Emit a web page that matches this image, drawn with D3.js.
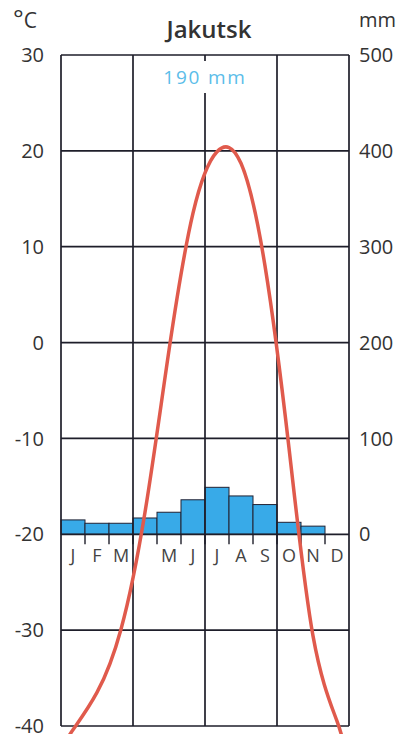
<!DOCTYPE html>
<html><head><meta charset="utf-8">
<script src="https://cdn.jsdelivr.net/npm/d3@7"></script>
<style>body{margin:0;background:#fff}svg{display:block}</style>
</head><body>
<svg id="c" width="403" height="734"></svg>
<script>
const months = ["J","F","M","A","M","J","J","A","S","O","N","D"];
const monthLabels = ["J","F","M","","M","J","J","A","S","O","N","D"];
const temperature = [-40.4,-36.5,-29.9,-17.7,-0.8,13.5,19.9,18.7,8.0,-11.0,-30.6,-39.5];
const precipitation = [15,11.5,11.5,17,23,36,49,40,31,12.5,8.5,0];
const tempTicks = [30,20,10,0,-10,-20,-30,-40];
const precTicks = [500,400,300,200,100,0];
const title = "Jakutsk";
const totalLabel = "190 mm";

const svg = d3.select("#c");
const FONT = "'Open Sans', sans-serif";
const x = d3.scaleLinear().domain([0,12]).range([61,349]);
const yT = d3.scaleLinear().domain([-40,30]).range([726,55]);
const yP = d3.scaleLinear().domain([0,500]).range([yT(-20), yT(30)]);
const grid = "#1e1e2a";

// bars
svg.append("g").selectAll("rect").data(precipitation).join("rect")
  .attr("x",(d,i)=>x(i)).attr("width",x(1)-x(0))
  .attr("y",d=>yP(d)).attr("height",d=>yP(0)-yP(d))
  .attr("fill","#38aae8").attr("stroke","#223").attr("stroke-width",1)
  .attr("display",d=>d>0?null:"none");

// horizontal grid
svg.append("g").selectAll("line").data(tempTicks).join("line")
  .attr("x1",x(0)).attr("x2",x(12)).attr("y1",d=>yT(d)).attr("y2",d=>yT(d))
  .attr("stroke",grid).attr("stroke-width",1.7);
// vertical grid
svg.append("g").selectAll("line").data([0,3,6,9,12]).join("line")
  .attr("x1",d=>x(d)).attr("x2",d=>x(d)).attr("y1",yT(30)).attr("y2",yT(-40))
  .attr("stroke",grid).attr("stroke-width",1.7);
// month ticks on precip baseline
svg.append("g").selectAll("line").data(d3.range(1,12)).join("line")
  .attr("x1",d=>x(d)).attr("x2",d=>x(d)).attr("y1",yP(0)).attr("y2",yP(0)+10)
  .attr("stroke",grid).attr("stroke-width",1.4);

// month labels
svg.append("g").selectAll("text").data(monthLabels).join("text")
  .attr("x",(d,i)=>x(i+0.5)).attr("y",yP(0)+28)
  .attr("text-anchor","middle").attr("font-family",FONT).attr("font-size",18)
  .attr("fill","#444").text(d=>d);

// total label with white background
const tl = svg.append("text").attr("x",x(6)).attr("y",84)
  .attr("text-anchor","middle").attr("font-family",FONT).attr("font-size",19)
  .attr("letter-spacing",1.8).attr("fill","#5bbde9").text(totalLabel);
const bb = tl.node().getBBox();
svg.append("rect").attr("x",bb.x-3).attr("y",bb.y-3).attr("width",bb.width+6).attr("height",bb.height+6).attr("fill","#fff");
tl.raise();

// temperature curve through month centres, continued along its trend to the plot edges
svg.append("clipPath").attr("id","cl").append("rect")
  .attr("x",x(0)).attr("y",0).attr("width",x(12)-x(0)).attr("height",734);
const n = temperature.length;
const pts = temperature.map((t,i)=>[i+0.5,t]);
const startPt = [0, temperature[0] + (temperature[0]-temperature[1])/2];
const endPt = [12, temperature[n-1] + (temperature[n-1]-temperature[n-2])/2];
const curvePts = [startPt, ...pts, endPt];
const line = d3.line().x(d=>x(d[0])).y(d=>yT(d[1])).curve(d3.curveNatural);
svg.append("path").datum(curvePts).attr("d",line).attr("clip-path","url(#cl)")
  .attr("fill","none").attr("stroke","#e05a4c").attr("stroke-width",3.5);

// left axis labels
svg.append("g").selectAll("text").data(tempTicks).join("text")
  .attr("x",44).attr("y",d=>yT(d)).attr("dy","0.36em").attr("text-anchor","end")
  .attr("font-family",FONT).attr("font-size",20).attr("fill","#333").text(d=>d);
// right axis labels
svg.append("g").selectAll("text").data(precTicks).join("text")
  .attr("x",359).attr("y",d=>yP(d)).attr("dy","0.36em").attr("text-anchor","start")
  .attr("font-family",FONT).attr("font-size",20).attr("fill","#333").text(d=>d);

// units and title
const cu = svg.append("text").attr("x",13).attr("y",28).attr("font-family",FONT).attr("fill","#333");
cu.append("tspan").attr("font-size",25).text("°");
cu.append("tspan").attr("font-size",21).text("C");
svg.append("text").attr("x",359).attr("y",27).attr("font-family",FONT).attr("font-size",20)
  .attr("fill","#333").text("mm");
svg.append("text").attr("x",209).attr("y",38).attr("text-anchor","middle").attr("font-family",FONT)
  .attr("font-size",24).attr("font-weight",600).attr("fill","#333").text(title);
</script>
</body></html>
